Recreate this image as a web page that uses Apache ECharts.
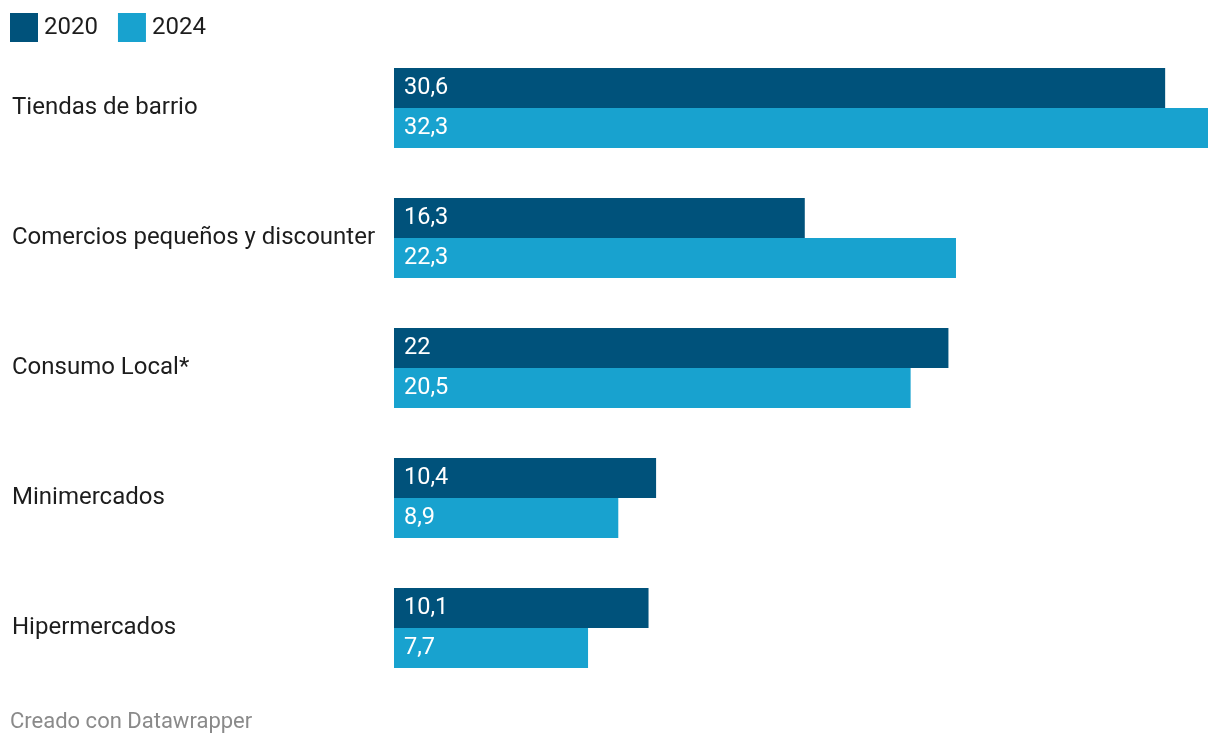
<!DOCTYPE html>
<html><head><meta charset="utf-8">
<script src="https://cdn.jsdelivr.net/npm/echarts@6/dist/echarts.min.js"></script>
<style>html,body{margin:0;padding:0;background:#fff}#c{width:1220px;height:746px}</style>
</head><body><div id="c"></div>
<script>
const categories = ["Tiendas de barrio","Comercios pequeños y discounter","Consumo Local*","Minimercados","Hipermercados"];
const values2020 = [30.6,16.3,22,10.4,10.1];
const values2024 = [32.3,22.3,20.5,8.9,7.7];
const seriesNames = ["2020","2024"];
const colors = ["#00527b","#18a2cf"];
const fmt = v => String(v).replace('.', ',');
const chart = echarts.init(document.getElementById('c'));
const lbl = {show:true, position:'insideLeft', distance:10, color:'#fff', fontFamily:'Roboto', fontSize:23.5, padding:[4,0,0,0], formatter:p=>fmt(p.value)};
chart.setOption({
  animation:false,
  textStyle:{fontFamily:'Roboto'},
  legend:{left:5, top:8, itemWidth:28, itemHeight:29, itemGap:20, icon:'rect',
    textStyle:{fontSize:24, color:'#1d1d1d', fontFamily:'Roboto', padding:[4,0,0,1]}, data:seriesNames},
  title:{text:'Creado con Datawrapper', left:5, top:706, textStyle:{fontSize:22, fontWeight:'normal', color:'#8a8a8a', fontFamily:'Roboto'}},
  grid:{left:394, right:12, top:43, bottom:53, containLabel:false},
  xAxis:{type:'value', min:0, max:32.3, show:false},
  yAxis:{type:'category', data:categories, inverse:true,
    axisLine:{show:false}, axisTick:{show:false},
    axisLabel:{align:'left', margin:382, fontSize:24, color:'#1d1d1d', fontFamily:'Roboto', padding:[10,0,0,0]}},
  series:[
    {name:seriesNames[0], type:'bar', data:values2020, barWidth:40, barGap:'0%', itemStyle:{color:colors[0]}, label:lbl},
    {name:seriesNames[1], type:'bar', data:values2024, barWidth:40, barGap:'0%', itemStyle:{color:colors[1]}, label:lbl}
  ],
  color:colors
});
</script></body></html>
